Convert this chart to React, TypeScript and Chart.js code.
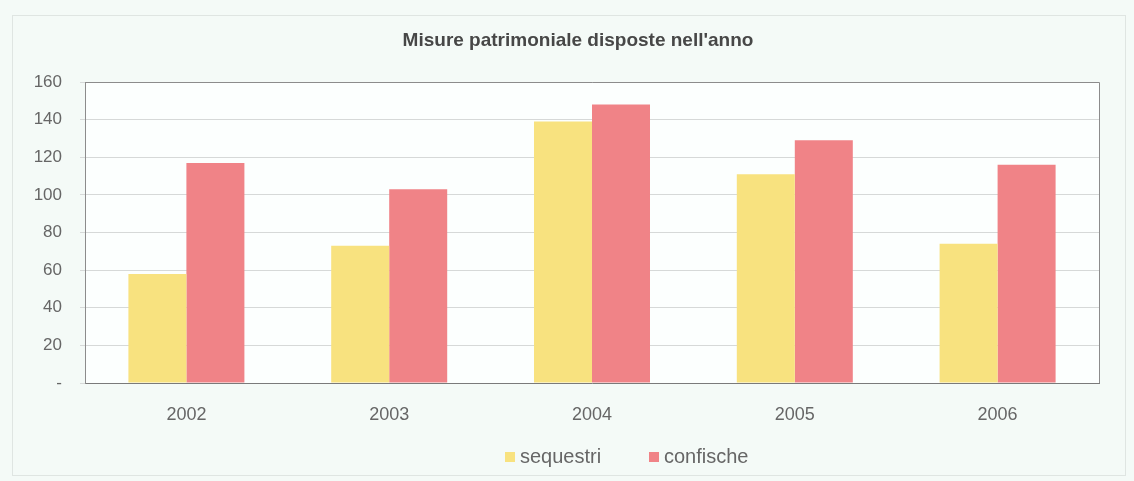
import React, { useEffect, useRef } from "react";
import { Chart, registerables } from "chart.js";

Chart.register(...registerables);

const TITLE = "Misure patrimoniale disposte nell'anno";
const CATEGORIES = ["2002", "2003", "2004", "2005", "2006"];
const SERIES_NAMES = ["sequestri", "confische"];
const SEQUESTRI = [58, 73, 139, 111, 74];
const CONFISCHE = [117, 103, 148, 129, 116];
const Y_TICKS = [0, 20, 40, 60, 80, 100, 120, 140, 160];
const COLORS = ["#f8e27f", "#f08387"];

const FONT = "'Liberation Sans', Arial, sans-serif";

const decorPlugin = {
  id: "decor",
  beforeDraw(chart: any) {
    const { ctx, chartArea, width, height } = chart;
    ctx.save();
    ctx.fillStyle = "#f4faf7";
    ctx.fillRect(0, 0, width, height);
    ctx.strokeStyle = "#dfe5e2";
    ctx.lineWidth = 1;
    ctx.strokeRect(12.5, 15.5, 1113, 460);
    ctx.fillStyle = "#fcfffe";
    ctx.fillRect(chartArea.left, chartArea.top, chartArea.right - chartArea.left, chartArea.bottom - chartArea.top);
    ctx.restore();
  },
  afterDraw(chart: any) {
    const { ctx, chartArea } = chart;
    ctx.save();
    ctx.strokeStyle = "#8c8c8c";
    ctx.lineWidth = 1;
    ctx.beginPath();
    ctx.moveTo(chartArea.left, chartArea.top + 0.5);
    ctx.lineTo(chartArea.right + 0.5, chartArea.top + 0.5);
    ctx.lineTo(chartArea.right + 0.5, chartArea.bottom);
    ctx.stroke();

    // title
    ctx.fillStyle = "#474747";
    ctx.font = `bold 19px ${FONT}`;
    ctx.textAlign = "center";
    ctx.textBaseline = "middle";
    ctx.fillText(TITLE, 578, 41);

    // legend
    ctx.font = `20px ${FONT}`;
    ctx.textAlign = "left";
    const ly = 457;
    const xs = [505, 649];
    chart.data.datasets.forEach((ds: any, i: number) => {
      ctx.fillStyle = ds.backgroundColor;
      ctx.fillRect(xs[i], ly - 5, 10, 10);
      ctx.fillStyle = "#666666";
      ctx.fillText(ds.label, xs[i] + 15, ly);
    });
    ctx.restore();
  },
};

export default function App() {
  const ref = useRef<HTMLCanvasElement>(null);
  useEffect(() => {
    document.body.style.margin = "0";
    const chart = new Chart(ref.current!, {
      type: "bar",
      data: {
        labels: CATEGORIES,
        datasets: [
          { label: SERIES_NAMES[0], data: SEQUESTRI, backgroundColor: COLORS[0], barPercentage: 1, categoryPercentage: 0.572 },
          { label: SERIES_NAMES[1], data: CONFISCHE, backgroundColor: COLORS[1], barPercentage: 1, categoryPercentage: 0.572 },
        ],
      },
      options: {
        responsive: false,
        animation: false,
        layout: { padding: { left: 12, top: 82, right: 35, bottom: 38 } },
        plugins: { legend: { display: false }, title: { display: false }, tooltip: { enabled: false } },
        scales: {
          x: {
            grid: { display: false },
            border: { display: true, color: "#7a7a7a", width: 1 },
            ticks: { color: "#666666", font: { family: FONT, size: 18 }, padding: 13 },
            afterFit: (s: any) => { s.height = 60; },
          },
          y: {
            min: 0,
            max: 160,
            afterBuildTicks: (s: any) => { s.ticks = Y_TICKS.map((v) => ({ value: v })); },
            grid: { color: "#d6d9d8", tickLength: 5, drawOnChartArea: true },
            border: { display: true, color: "#8c8c8c", width: 1 },
            ticks: {
              color: "#666666",
              font: { family: FONT, size: 17 },
              padding: 18,
              callback: (v: any) => (Number(v) === 0 ? "-" : String(v)),
            },
            afterFit: (s: any) => { s.width = 73; },
          },
        },
      },
      plugins: [decorPlugin],
    });
    return () => chart.destroy();
  }, []);
  return <canvas ref={ref} width={1134} height={481} style={{ display: "block" }} />;
}
